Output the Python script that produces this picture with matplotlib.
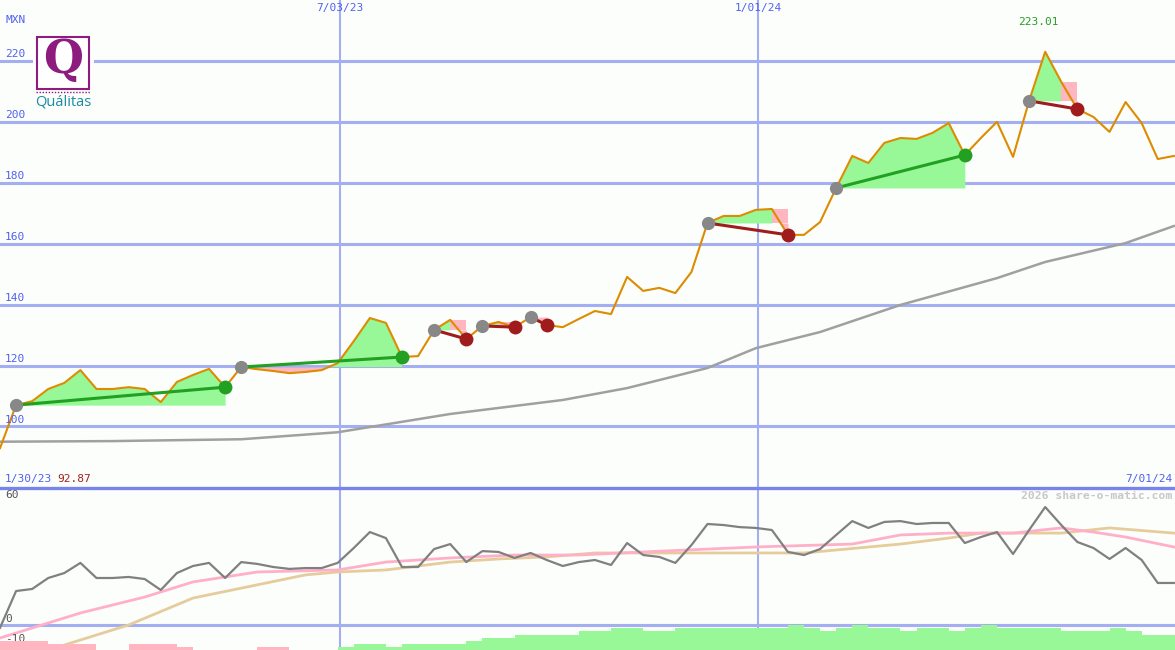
import numpy as np
import matplotlib
matplotlib.use("Agg")
import matplotlib.pyplot as plt
from matplotlib.lines import Line2D
from matplotlib.patches import Rectangle
import matplotlib.transforms as mtransforms

# weekly closes (MXN), one point per week
price = [92.87, 107.0, 108.3, 112.3, 114.3, 118.5, 112.3, 112.3, 112.9, 112.3,
         108.0, 114.6, 116.9, 118.9, 112.9, 119.5, 118.8, 118.2, 117.5, 117.9,
         118.5, 120.8, 128.0, 135.6, 134.0, 122.8, 123.1, 131.7, 135.0, 128.7,
         133.0, 134.3, 132.6, 135.9, 133.3, 132.6, 135.3, 137.9, 136.9, 149.1,
         144.5, 145.5, 143.8, 150.7, 166.8, 169.1, 169.1, 171.1, 171.4, 162.9,
         162.9, 167.1, 178.3, 188.8, 186.5, 193.1, 194.7, 194.4, 196.4, 199.6,
         189.1, 194.7, 200.0, 188.5, 206.9, 223.01, 213.1, 204.2, 201.6, 196.7,
         206.5, 199.6, 187.8, 188.8]
weeks = np.arange(len(price))

# long moving average (sampled)
ma_weeks = [0, 7, 15, 21, 28, 35, 39, 44, 47, 51, 56, 62, 65, 70, 73]
ma_vals = [95.0, 95.2, 95.8, 98.1, 104.1, 108.7, 112.6, 119.2, 125.7, 131.0,
           139.9, 148.7, 154.0, 160.2, 165.8]

# trades: (entry week, exit week)
trades = [(1, 14), (15, 25), (27, 29), (30, 32), (33, 34), (44, 49), (52, 60), (64, 67)]

# oscillator panel
osc = [-1.4, 16.4, 17.4, 22.7, 25.1, 30.0, 22.7, 22.7, 23.2, 22.2,
       16.9, 25.1, 28.5, 30.0, 22.7, 30.4, 29.5, 28.0, 27.1, 27.5,
       27.5, 30.0, 37.2, 44.9, 42.0, 28.0, 28.0, 36.7, 39.1, 30.4,
       35.7, 35.3, 32.4, 34.8, 31.4, 28.5, 30.4, 31.4, 29.0, 39.6,
       33.8, 32.9, 30.0, 38.6, 48.8, 48.3, 47.3, 46.9, 45.9, 35.3,
       33.8, 36.7, 43.5, 50.2, 46.9, 49.8, 50.2, 48.8, 49.3, 49.3,
       39.6, 42.5, 44.9, 34.3, 45.9, 57.0, 48.3, 40.1, 37.2, 31.9,
       37.2, 31.4, 20.3, 20.3]
fast_weeks = [0, 5, 9, 12, 16, 21, 24, 28, 32, 36, 40, 47, 53, 56, 59, 63, 66, 68, 70, 73]
fast_vals = [-6.3, 5.8, 13.5, 20.8, 25.6, 26.6, 30.4, 32.4, 33.8, 33.8, 35.3, 37.7,
             39.1, 43.5, 44.4, 44.4, 46.9, 44.9, 42.5, 37.7]
slow_weeks = [3, 8, 12, 19, 21, 24, 28, 31, 34, 37, 44, 50, 56, 59, 61, 66, 69, 73]
slow_vals = [-12.1, 0.0, 13.0, 24.2, 25.6, 26.6, 30.4, 31.9, 32.9, 34.8, 34.8, 34.8,
             39.1, 42.0, 44.4, 44.4, 46.9, 44.4]
hist = [-3, -3, -3, -2, -2, -2, 0, 0, -2, -2,
        -2, -1, 0, 0, 0, 0, -1, -1, 0, 0,
        0, 1, 2, 2, 1, 2, 2, 2, 2, 3,
        4, 4, 5, 5, 5, 5, 6.3, 6.3, 7.3, 7.3,
        6.3, 6.3, 7.3, 7.3, 7.3, 7.3, 7.3, 7.3, 7.3, 8.3,
        7.3, 6.3, 7.3, 8.3, 7.3, 7.3, 6.3, 7.3, 7.3, 6.3,
        7.3, 8.3, 7.3, 7.3, 7.3, 7.3, 6.3, 6.3, 6.3, 7.3,
        6.3, 5, 5, 5]

price_ticks = [100, 120, 140, 160, 180, 200, 220]
date_lines = [(21.14, "7/03/23"), (47.14, "1/01/24")]

W, H = 1175, 650
BG = "#fcfefc"
GRID = "#a3aff0"
BLUE = "#5060f0"
GREEN_FILL = "#98f898"
PINK = "#ffb6c1"
MONO = "DejaVu Sans Mono"
FS = 8

fig = plt.figure(figsize=(W / 100, H / 100), dpi=100, facecolor=BG)
ax1 = fig.add_axes([0, 162 / H, 1, 488 / H], facecolor=BG)
ax2 = fig.add_axes([0, 0, 1, 162 / H], facecolor=BG)
for a in (ax1, ax2):
    a.set_xlim(0, W / 16.08)
    a.set_xticks([])
    a.set_yticks([])
    for s in a.spines.values():
        s.set_visible(False)
    for xv, _ in date_lines:
        a.axvline(xv, color=GRID, lw=1.5, zorder=0)

ax1.set_ylim(79.8, 240.0)
ax2.set_ylim(-12.1, 66.2)

def px(x, y):
    return x / W, 1 - y / H

# price panel
tr1 = mtransforms.blended_transform_factory(ax1.transAxes, ax1.transData)
for v in price_ticks:
    ax1.axhline(v, color=GRID, lw=2.2, zorder=0)
    ax1.text(5 / W, v + 0.5, str(v), transform=tr1, ha="left", va="bottom",
             fontsize=FS, family=MONO, color=BLUE, zorder=6)

ax1.plot(ma_weeks, ma_vals, color="#a0a0a0", lw=1.8, zorder=2)

p = np.array(price)
for s, e in trades:
    entry = p[s]
    win = p[e] >= entry
    g_end = e if win else e - 1
    xs = weeks[s:g_end + 1]
    ys = p[s:g_end + 1]
    ax1.fill_between(xs, ys, entry, where=ys >= entry, interpolate=True, color=GREEN_FILL, lw=0, zorder=1)
    xa = weeks[s:e + 1]
    ya = p[s:e + 1]
    ax1.fill_between(xa, ya, entry, where=ya < entry, interpolate=True, color=PINK, lw=0, zorder=1)
    if not win:
        ax1.fill_between([e - 1, e], entry, p[e - 1], color=PINK, lw=0, zorder=1)

ax1.plot(weeks, price, color="#dd8c00", lw=1.5, zorder=3)

for s, e in trades:
    win = p[e] >= p[s]
    lc = "#22a022" if win else "#a01c1c"
    ax1.plot([s, e], [p[s], p[e]], color=lc, lw=2.2, zorder=4, solid_capstyle="butt")
    ax1.plot(s, p[s], "o", color="#888888", ms=9.5, mew=0, zorder=5)
    ax1.plot(e, p[e], "o", color=lc, ms=10, mew=0, zorder=5)

# oscillator panel
ax2.axhline(0, color=GRID, lw=2.2, zorder=0)
ax2.plot(slow_weeks, slow_vals, color="#e6cc9c", lw=2, zorder=2)
ax2.plot(fast_weeks, fast_vals, color="#ffb0c8", lw=2, zorder=2)
ax2.plot(weeks, osc, color="#808080", lw=1.6, zorder=3)

axh = ax2.twinx()
axh.set_ylim(0, 162 / 3)
axh.set_yticks([])
for s in axh.spines.values():
    s.set_visible(False)
h = np.array(hist, dtype=float)
axh.bar(weeks, np.abs(h), width=1.0, align="edge",
        color=[PINK if v < 0 else GREEN_FILL for v in h], lw=0, zorder=1)

tr2 = mtransforms.blended_transform_factory(ax2.transAxes, ax2.transData)
for v, lab in [(60, "60"), (0, "0"), (-10, "-10")]:
    ax2.text(5 / W, v + 0.6, lab, transform=tr2, ha="left", va="bottom",
             fontsize=FS, family=MONO, color="#555555", zorder=6)

# separator and figure texts
fig.add_artist(Line2D([0, 1], [1 - 488 / H, 1 - 488 / H], transform=fig.transFigure,
                      color="#7884ea", lw=2.4))
fig.text(*px(5, 20), "MXN", ha="left", va="center", fontsize=FS, family=MONO, color=BLUE)
for xv, lab in date_lines:
    fig.text(*px(xv * 16.08, 8), lab, ha="center", va="center", fontsize=FS, family=MONO, color=BLUE)
fig.text(*px(1038, 22), "%.2f" % max(price), ha="center", va="center", fontsize=FS, family=MONO,
         color="#2a9a2a")
fig.text(*px(5, 479), "1/30/23", ha="left", va="center", fontsize=FS, family=MONO, color=BLUE)
fig.text(*px(57, 479), "%.2f" % price[0], ha="left", va="center", fontsize=FS, family=MONO, color="#a02020")
fig.text(*px(1172, 479), "7/01/24", ha="right", va="center", fontsize=FS, family=MONO, color=BLUE)
fig.text(*px(1172, 496), "2026 share-o-matic.com", ha="right", va="center", fontsize=8.2,
         family=MONO, weight="bold", color="#c8c8c8")

# logo
fig.add_artist(Rectangle(px(33, 112), 61 / W, 80 / H, transform=fig.transFigure,
                         facecolor=BG, edgecolor="none", zorder=7))
fig.add_artist(Rectangle(px(37, 89), 52 / W, 52 / H, transform=fig.transFigure,
                         facecolor="white", edgecolor="#8e1b7e", lw=1.5, zorder=8))
fig.text(*px(63, 60), "Q", ha="center", va="center", fontsize=33, family="DejaVu Serif",
         weight="bold", color="#8e1b7e", zorder=9)
fig.add_artist(Line2D([36 / W, 90 / W], [1 - 92 / H, 1 - 92 / H], transform=fig.transFigure,
                      color="#8e1b7e", lw=1.0, ls=(0, (1, 1.2)), zorder=9))
fig.text(*px(63, 102), "Quálitas", ha="center", va="center", fontsize=10.5, family="Open Sans",
         color="#1b8aa0", zorder=9)

fig.savefig("out.png", dpi=100, facecolor=BG)
